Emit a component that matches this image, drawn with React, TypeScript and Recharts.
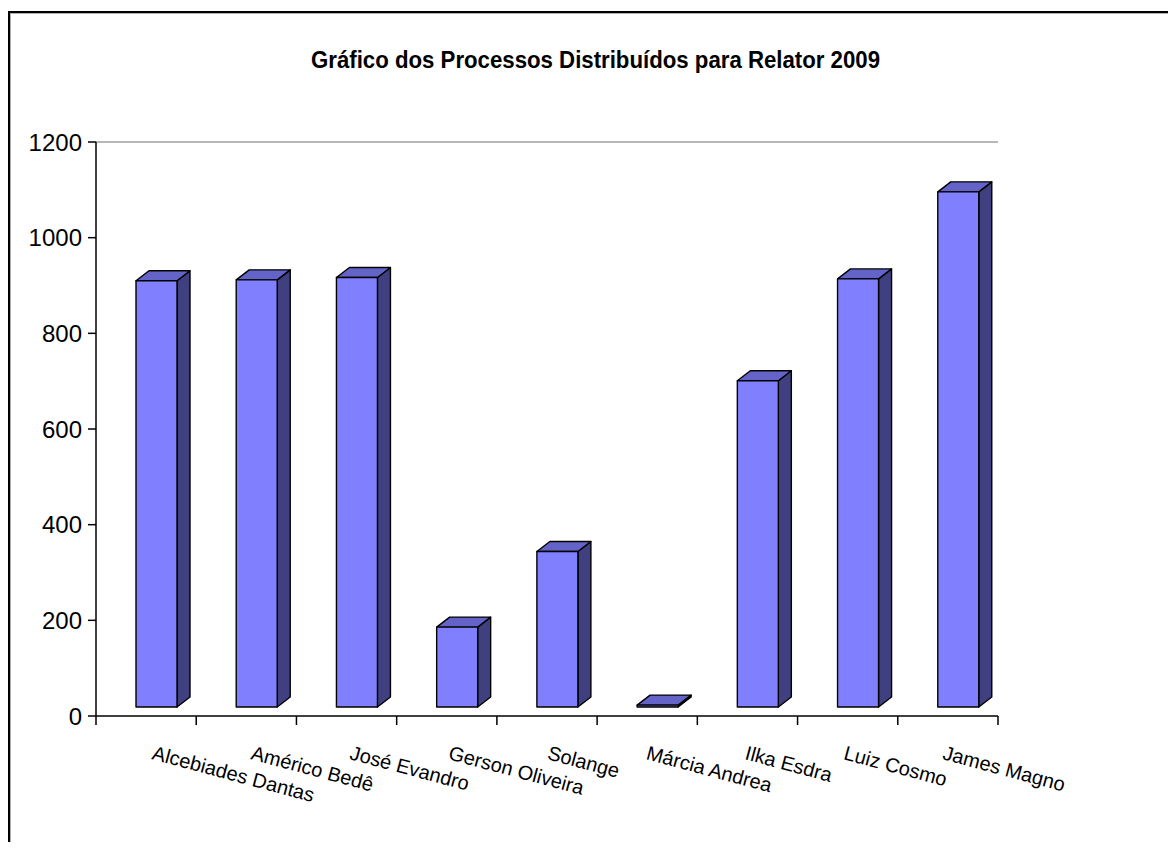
import { Bar, BarChart, ReferenceLine, XAxis, YAxis } from "recharts";

const categories = [
  "Alcebiades Dantas",
  "Américo Bedê",
  "José Evandro",
  "Gerson Oliveira",
  "Solange",
  "Márcia Andrea",
  "Ilka Esdra",
  "Luiz Cosmo",
  "James Magno",
];
const processos = [891, 893, 898, 167, 325, 4, 682, 895, 1077];
const yTicks = [0, 200, 400, 600, 800, 1000, 1200];
const title = "Gráfico dos Processos Distribuídos para Relator 2009";

const data = categories.map((nome, i) => ({ nome, valor: processos[i] }));

const W = 1160;
const H = 834;
const PLOT_LEFT = 88;
const PLOT_RIGHT = 990;
const BAND = (PLOT_RIGHT - PLOT_LEFT) / categories.length;
const FONT = "Arial, 'Liberation Sans', sans-serif";

// 3D look: depth offset of the side/top faces
const DX = 13;
const DY = 10;
const FRONT_SHIFT_X = 10;
const FRONT_SHIFT_Y = 9;

function Bar3D(props: any) {
  const { x, y, width, height } = props;
  if (x == null || y == null) return null;
  const fx = x + FRONT_SHIFT_X;
  const fy = y - FRONT_SHIFT_Y;
  const fb = y + height - FRONT_SHIFT_Y;
  const w = width;
  const top = `${fx},${fy} ${fx + DX},${fy - DY} ${fx + w + DX},${fy - DY} ${fx + w},${fy}`;
  const side = `${fx + w},${fy} ${fx + w + DX},${fy - DY} ${fx + w + DX},${fb - DY} ${fx + w},${fb}`;
  return (
    <g stroke="#000" strokeWidth={1.4} strokeLinejoin="round">
      <polygon points={side} fill="#404080" />
      <polygon points={top} fill="#6464C8" />
      <rect x={fx} y={fy} width={w} height={Math.max(fb - fy, 0.5)} fill="#8080FF" />
    </g>
  );
}

function CategoryTick(props: any) {
  const { x, y, payload, index } = props;
  const left = x - BAND / 2;
  const sx = x + 5 - 1.4 * index;
  const sy = y + 43;
  return (
    <g>
      <line x1={left} y1={y} x2={left} y2={y + 9} stroke="#000" strokeWidth={1.5} />
      {index === categories.length - 1 && (
        <line x1={x + BAND / 2} y1={y} x2={x + BAND / 2} y2={y + 9} stroke="#000" strokeWidth={1.5} />
      )}
      <text
        x={sx}
        y={sy}
        transform={`rotate(15, ${sx}, ${sy})`}
        fontSize={20}
        fontFamily={FONT}
        fill="#000"
      >
        {payload.value}
      </text>
    </g>
  );
}

export default function App() {
  return (
    <div style={{ position: "relative", width: W, height: H, background: "#fff" }}>
      <BarChart
        width={W}
        height={H}
        data={data}
        margin={{ top: 134, right: W - PLOT_RIGHT, bottom: 86, left: PLOT_LEFT - 80 }}
      >
        <XAxis
          dataKey="nome"
          height={40}
          interval={0}
          tickSize={0}
          tickMargin={0}
          tickLine={false}
          axisLine={{ stroke: "#000", strokeWidth: 1.5 }}
          tick={<CategoryTick />}
        />
        <YAxis
          width={80}
          domain={[0, 1200]}
          ticks={yTicks}
          interval={0}
          tickSize={8}
          tickMargin={6}
          axisLine={{ stroke: "#000", strokeWidth: 1.5 }}
          tickLine={{ stroke: "#000", strokeWidth: 1.5 }}
          tick={{ fill: "#000", fontSize: 24, fontFamily: FONT }}
        />
        <YAxis
          yAxisId="borda"
          orientation="right"
          width={0}
          domain={[0, 1200]}
          tick={false}
          tickLine={false}
          axisLine={{ stroke: "#a0a0a0", strokeWidth: 1.5 }}
        />
        <ReferenceLine y={1200} stroke="#a0a0a0" strokeWidth={1.5} />
        <Bar dataKey="valor" barSize={41} shape={<Bar3D />} isAnimationActive={false} />
      </BarChart>
      <svg
        width={W}
        height={H}
        style={{ position: "absolute", left: 0, top: 0, pointerEvents: "none" }}
      >
        <line x1={1} y1={3} x2={1} y2={H} stroke="#000" strokeWidth={2} />
        <line x1={0} y1={4} x2={W} y2={4} stroke="#000" strokeWidth={2} />
        <line x1={2.5} y1={5.5} x2={2.5} y2={H} stroke="#b0b0b0" strokeWidth={1} />
        <line x1={2} y1={5.5} x2={W} y2={5.5} stroke="#b0b0b0" strokeWidth={1} />
        <text
          x={587.5}
          y={60}
          textAnchor="middle"
          fontSize={23}
          fontWeight="bold"
          fontFamily={FONT}
          textLength={569}
          lengthAdjust="spacingAndGlyphs"
          fill="#000"
        >
          {title}
        </text>
      </svg>
    </div>
  );
}
